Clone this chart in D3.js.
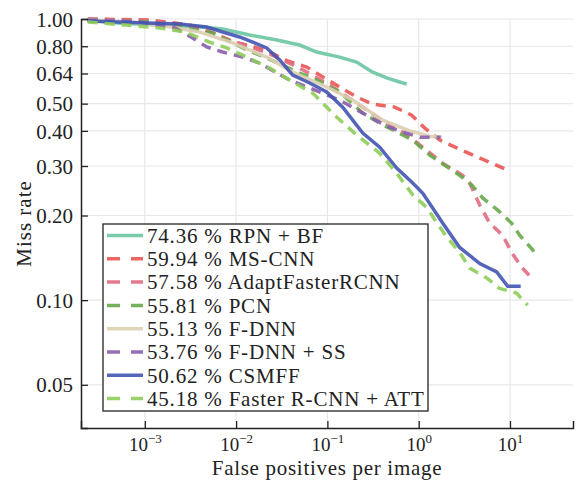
<!DOCTYPE html>
<html lang="en">
<head>
<meta charset="UTF-8">
<title>Miss rate vs FPPI</title>
<script src="https://d3js.org/d3.v7.min.js"></script>
<style>
  body { margin: 0; background: #fff; }
  svg { font-family: "Liberation Serif", "DejaVu Serif", serif; }
</style>
</head>
<body>
<svg id="chart" width="577" height="480"></svg>
<script>
// methods and their log-average miss rate
var names = ["74.36 % RPN + BF", "59.94 % MS-CNN", "57.58 % AdaptFasterRCNN", "55.81 % PCN",
             "55.13 % F-DNN", "53.76 % F-DNN + SS", "50.62 % CSMFF", "45.18 % Faster R-CNN + ATT"];
var colors = ["#6cc5a1", "#ea5553", "#e06c82", "#67a94a", "#dccfb1", "#8a5eae", "#4254b2", "#8fcd5a"];
var dashed = [false, true, true, true, false, true, false, true];

// curves: false positives per image / miss rate
var rpnFppi = [2.37e-4, 4.92e-4, 1.46e-3, 3.99e-3, 7.13e-3, 0.0141, 0.0279, 0.0497, 0.0763, 0.136, 0.209, 0.313, 0.446, 0.619, 0.739];
var rpnMr   = [0.992, 0.968, 0.952, 0.936, 0.921, 0.877, 0.842, 0.808, 0.763, 0.732, 0.703, 0.647, 0.617, 0.597, 0.587];

var mscnnFppi = [2.37e-4, 1.13e-3, 3.10e-3, 5.54e-3, 9.18e-3, 0.0148, 0.0233, 0.0367, 0.0593, 0.0889, 0.136, 0.209, 0.313, 0.546, 0.838, 1.16, 1.70, 2.61, 4.10, 6.30, 9.44];
var mscnnMr   = [1.0, 0.992, 0.952, 0.892, 0.828, 0.802, 0.763, 0.709, 0.675, 0.622, 0.573, 0.528, 0.498, 0.486, 0.455, 0.410, 0.371, 0.348, 0.326, 0.307, 0.290];

var adaptFppi = [2.37e-4, 1.13e-3, 3.99e-3, 8.51e-3, 0.0222, 0.0497, 0.106, 0.226, 0.424, 0.668, 0.975, 1.83, 3.03, 3.62, 4.66, 5.99, 8.32, 10.4, 13.4, 17.3];
var adaptMr   = [1.0, 0.984, 0.929, 0.842, 0.757, 0.669, 0.582, 0.494, 0.430, 0.396, 0.362, 0.307, 0.278, 0.261, 0.218, 0.188, 0.170, 0.148, 0.131, 0.120];

var pcnFppi = [2.37e-4, 1.13e-3, 3.70e-3, 5.54e-3, 0.0131, 0.0216, 0.0497, 0.0690, 0.136, 0.244, 0.403, 0.860, 1.32, 1.93, 2.81, 3.81, 5.02, 7.33, 10.4, 12.8, 17.7, 18.6];
var pcnMr   = [0.992, 0.976, 0.914, 0.892, 0.776, 0.727, 0.642, 0.617, 0.550, 0.463, 0.420, 0.371, 0.328, 0.302, 0.278, 0.257, 0.231, 0.209, 0.188, 0.170, 0.151, 0.147];

var fdnnFppi = [2.37e-4, 6.84e-4, 1.65e-3, 3.99e-3, 9.18e-3, 0.0216, 0.0417, 0.0982, 0.189, 0.403, 0.797, 1.32, 1.79];
var fdnnMr   = [0.992, 0.976, 0.944, 0.899, 0.822, 0.732, 0.647, 0.573, 0.515, 0.437, 0.400, 0.383, 0.380];

var fdnnssFppi = [2.37e-4, 8.80e-4, 2.13e-3, 3.35e-3, 4.77e-3, 7.13e-3, 0.0118, 0.0181, 0.0279, 0.0386, 0.0640, 0.136, 0.291, 0.446, 0.668, 1.03, 1.74];
var fdnnssMr   = [0.992, 0.976, 0.929, 0.856, 0.795, 0.763, 0.732, 0.697, 0.642, 0.607, 0.568, 0.515, 0.448, 0.416, 0.396, 0.380, 0.380];

var csmffFppi = [2.37e-4, 1.05e-3, 2.41e-3, 4.77e-3, 7.13e-3, 0.0109, 0.0152, 0.0216, 0.0300, 0.0417, 0.0640, 0.0982, 0.147, 0.244, 0.374, 0.574, 0.860, 1.11, 1.83, 2.81, 4.66, 7.15, 9.44, 13.1];
var csmffMr   = [0.984, 0.968, 0.960, 0.936, 0.899, 0.863, 0.828, 0.789, 0.715, 0.632, 0.592, 0.550, 0.486, 0.393, 0.350, 0.295, 0.261, 0.240, 0.188, 0.154, 0.135, 0.126, 0.112, 0.112];

var attFppi = [2.37e-4, 8.15e-4, 1.46e-3, 2.74e-3, 5.13e-3, 7.89e-3, 0.0131, 0.0233, 0.0417, 0.0690, 0.126, 0.209, 0.374, 0.574, 0.860, 1.22, 1.57, 2.08, 2.81, 3.62, 5.56, 7.71, 11.8, 15.6];
var attMr   = [0.976, 0.944, 0.929, 0.899, 0.828, 0.789, 0.732, 0.669, 0.597, 0.545, 0.448, 0.387, 0.333, 0.283, 0.237, 0.214, 0.189, 0.166, 0.148, 0.130, 0.120, 0.110, 0.106, 0.096];

var yTicks = [1.00, 0.80, 0.64, 0.50, 0.40, 0.30, 0.20, 0.10, 0.05];
var xTicks = [-3, -2, -1, 0, 1]; // powers of ten

var series = [
  [rpnFppi, rpnMr], [mscnnFppi, mscnnMr], [adaptFppi, adaptMr], [pcnFppi, pcnMr],
  [fdnnFppi, fdnnMr], [fdnnssFppi, fdnnssMr], [csmffFppi, csmffMr], [attFppi, attMr]
];

// plot area (window.top is taken, so short names)
var pl = 81, pr = 573, pt = 19, pb = 428;

var x = d3.scaleLog().domain([2.0e-4, 49]).range([pl, pr]);
var y = d3.scaleLog().domain([0.0351, 1.0]).range([pb, pt]);

var svg = d3.select("#chart");

// grid
var grid = svg.append("g").attr("stroke", "#e8e8e8").attr("stroke-width", 1.2);
grid.selectAll("line.h").data(yTicks).join("line").attr("class", "h")
  .attr("x1", pl).attr("x2", pr)
  .attr("y1", d => y(d)).attr("y2", d => y(d));
grid.selectAll("line.v").data(xTicks).join("line").attr("class", "v")
  .attr("x1", d => x(Math.pow(10, d))).attr("x2", d => x(Math.pow(10, d)))
  .attr("y1", pt).attr("y2", pb);

// curves
var line = d3.line().x(d => x(d[0])).y(d => y(d[1]));
svg.append("g").selectAll("path")
  .data(series)
  .join("path")
  .attr("d", s => line(s[0].map((v, i) => [v, s[1][i]])))
  .attr("fill", "none")
  .attr("stroke", (s, i) => colors[i])
  .attr("stroke-width", 3.5)
  .attr("stroke-opacity", 0.9)
  .attr("stroke-dasharray", (s, i) => dashed[i] ? "10,7" : null);

// axes (ticks point inward)
var yAxis = svg.append("g").attr("transform", `translate(${pl},0)`)
  .call(d3.axisLeft(y).tickValues(yTicks).tickSize(-7).tickPadding(8).tickFormat(d3.format(".2f")));
var xAxis = svg.append("g").attr("transform", `translate(0,${pb})`)
  .call(d3.axisBottom(x).tickValues(xTicks.map(d => Math.pow(10, d))).tickSize(-7).tickFormat(""));
[yAxis, xAxis].forEach(function(a) {
  a.select(".domain").attr("stroke", "#222").attr("stroke-width", 1.5);
  a.selectAll(".tick line").attr("stroke", "#222").attr("stroke-width", 1.3);
});
yAxis.selectAll(".tick text")
  .attr("font-family", "Liberation Serif, serif").attr("font-size", 21).attr("fill", "#222")
  .attr("dy", "0.34em");

// x tick labels with superscripts
xAxis.selectAll(".tick").each(function(d) {
  var t = d3.select(this).append("text")
    .attr("y", 23).attr("x", 0).attr("text-anchor", "middle")
    .attr("font-family", "Liberation Serif, serif").attr("font-size", 19).attr("fill", "#222");
  t.append("tspan").text("10");
  t.append("tspan").attr("dy", -8).attr("font-size", 13).text(String(Math.round(Math.log10(d))).replace("-", "\u2212"));
});

// axis titles
svg.append("text")
  .attr("x", (pl + pr) / 2).attr("y", 475)
  .attr("text-anchor", "middle").attr("font-size", 21).attr("letter-spacing", 0.7).attr("fill", "#222")
  .text("False positives per image");
svg.append("text")
  .attr("transform", `translate(31,${(pt + pb) / 2}) rotate(-90)`)
  .attr("text-anchor", "middle").attr("font-size", 21).attr("letter-spacing", 1).attr("fill", "#222")
  .text("Miss rate");

// legend
var legend = svg.append("g").attr("transform", "translate(103,224)");
legend.append("rect")
  .attr("width", 325).attr("height", 187)
  .attr("fill", "#fff").attr("stroke", "#333").attr("stroke-width", 1.4);
var rows = legend.selectAll("g.row").data(names).join("g")
  .attr("transform", (d, i) => `translate(0,${11.5 + i * 23.3})`);
rows.append("line")
  .attr("x1", 4).attr("x2", 40).attr("y1", 0).attr("y2", 0)
  .attr("stroke", (d, i) => colors[i]).attr("stroke-width", 3.5).attr("stroke-opacity", 0.9)
  .attr("stroke-dasharray", (d, i) => dashed[i] ? "13,11" : null);
rows.append("text")
  .attr("x", 44).attr("dy", "0.35em")
  .attr("font-size", 21).attr("letter-spacing", 0.8).attr("fill", "#222")
  .text(d => d);
</script>
</body>
</html>
